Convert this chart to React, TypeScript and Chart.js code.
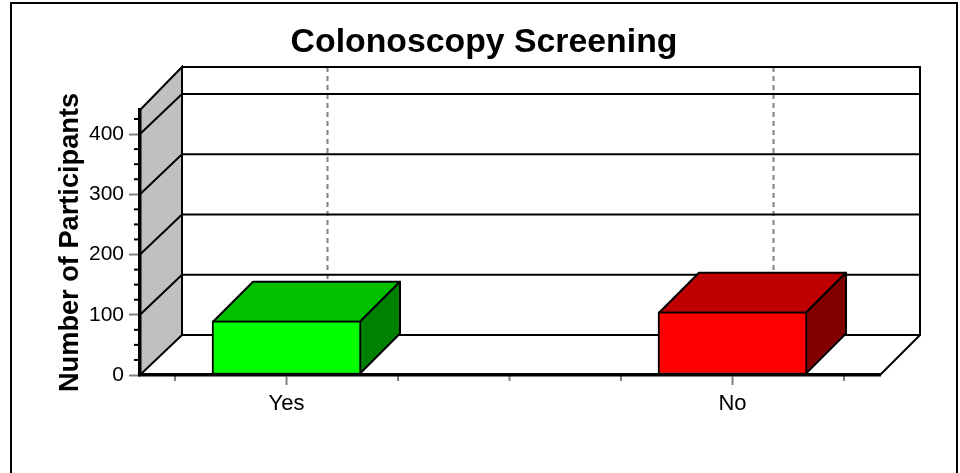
import React, { useEffect, useRef } from "react";
import { Chart, registerables } from "chart.js";

Chart.register(...registerables);

const categories = ["Yes", "No"];
const participants = [90, 105];
const xTickValues = [0.75, 1, 1.25, 1.5, 1.75, 2, 2.25];
const xAxisMin = 0.6715;
const xAxisMax = 2.3307;
const yAxisMax = 440;
const yMinorStep = 25;
const yMajorStep = 100;

const frontColors = ["#00ff00", "#ff0000"];
const topColors = ["#00c000", "#c00000"];
const sideColors = ["#008000", "#800000"];

const FONT = "'Liberation Sans', Arial, sans-serif";
const WALL_DX = 42;
const WALL_DY = 41;
const BAR_DX = 40;
const BAR_DY = 40;

const poly = (ctx: CanvasRenderingContext2D, pts: number[][], fill?: string) => {
  ctx.beginPath();
  pts.forEach(([x, y], i) => (i ? ctx.lineTo(x, y) : ctx.moveTo(x, y)));
  ctx.closePath();
  if (fill) {
    ctx.fillStyle = fill;
    ctx.fill();
  }
  ctx.stroke();
};

const seg = (ctx: CanvasRenderingContext2D, x1: number, y1: number, x2: number, y2: number) => {
  ctx.beginPath();
  ctx.moveTo(x1, y1);
  ctx.lineTo(x2, y2);
  ctx.stroke();
};

const scene3d = {
  id: "scene3d",
  beforeDraw(chart: any) {
    const { ctx, chartArea: a, scales } = chart;
    const y = scales.y;
    const x = scales.x;
    ctx.save();
    ctx.lineJoin = "miter";

    // outer frame, open at the bottom of the picture
    ctx.strokeStyle = "#000";
    ctx.lineWidth = 2;
    ctx.beginPath();
    ctx.moveTo(11, 473);
    ctx.lineTo(11, 3);
    ctx.lineTo(957, 3);
    ctx.lineTo(957, 473);
    ctx.stroke();

    const bx = a.left + WALL_DX;
    const brx = a.right + WALL_DX - 2;
    const floorBack = a.bottom - WALL_DY + 1;
    const topBack = a.top - WALL_DY - 2;

    // dashed category lines on the back wall
    ctx.strokeStyle = "#808080";
    ctx.lineWidth = 2;
    ctx.setLineDash([5, 4]);
    categories.forEach((_, i) => {
      const px = x.getPixelForValue(i + 1) + 41;
      seg(ctx, px, topBack, px, floorBack);
    });
    ctx.setLineDash([]);

    // left wall
    ctx.strokeStyle = "#000";
    ctx.lineWidth = 2;
    poly(ctx, [[a.left, a.top], [bx, topBack], [bx, floorBack], [a.left, a.bottom]], "#c0c0c0");

    // back wall outline
    ctx.beginPath();
    ctx.moveTo(bx, topBack);
    ctx.lineTo(brx, topBack);
    ctx.lineTo(brx, floorBack);
    ctx.lineTo(a.right, a.bottom);
    ctx.stroke();
    seg(ctx, bx, floorBack, brx, floorBack);

    // horizontal value lines on the left and back walls
    y.ticks.forEach((t: any) => {
      if (t.value === 0 || t.value % yMajorStep !== 0) return;
      const py = y.getPixelForValue(t.value);
      ctx.beginPath();
      ctx.moveTo(a.left, py);
      ctx.lineTo(bx, py - WALL_DY + 1);
      ctx.lineTo(brx, py - WALL_DY + 1);
      ctx.stroke();
    });

    // minor ticks
    ctx.lineWidth = 2;
    y.ticks.forEach((t: any) => {
      if (t.value % yMajorStep === 0) return;
      const py = y.getPixelForValue(t.value);
      seg(ctx, a.left - 6, py, a.left, py);
    });
    ctx.strokeStyle = "#808080";
    x.ticks.forEach((t: any) => {
      if (Number.isInteger(t.value)) return;
      const px = x.getPixelForValue(t.value);
      seg(ctx, px, a.bottom, px, a.bottom + 6);
    });
    ctx.restore();
  },
  beforeDatasetsDraw(chart: any) {
    const { ctx } = chart;
    const els = chart.getDatasetMeta(0).data;
    ctx.save();
    ctx.strokeStyle = "#000";
    ctx.lineWidth = 2;
    ctx.lineJoin = "round";
    els.forEach((el: any, i: number) => {
      const l = el.x - el.width / 2 + 1;
      const r = el.x + el.width / 2 - 1;
      const t = el.y + 1;
      const b = el.base - 1;
      poly(ctx, [[l, t], [l + BAR_DX, t - BAR_DY], [r + BAR_DX, t - BAR_DY], [r, t]], topColors[i]);
      poly(ctx, [[r, t], [r + BAR_DX, t - BAR_DY], [r + BAR_DX, b - BAR_DY], [r, b]], sideColors[i]);
    });
    ctx.restore();
  },
};

export default function App() {
  const ref = useRef<HTMLCanvasElement>(null);
  useEffect(() => {
    const chart = new Chart(ref.current as HTMLCanvasElement, {
      type: "bar",
      data: {
        datasets: [
          {
            data: categories.map((_, i) => ({ x: i + 1, y: participants[i] })),
            backgroundColor: frontColors,
            borderColor: "#000",
            borderWidth: 2,
            borderSkipped: false,
            barThickness: 149,
          },
        ],
      },
      plugins: [scene3d],
      options: {
        responsive: false,
        animation: false,
        layout: { autoPadding: false, padding: { left: 8, right: 0, top: 0, bottom: 0 } },
        plugins: {
          legend: { display: false },
          tooltip: { enabled: false },
          title: {
            display: true,
            text: "Colonoscopy Screening",
            color: "#000",
            font: { family: FONT, size: 33.8, weight: "bold", lineHeight: 1.2 },
            padding: { top: 22.7, bottom: 46.7 },
          },
        },
        scales: {
          x: {
            type: "linear",
            position: "bottom",
            min: xAxisMin,
            max: xAxisMax,
            offset: false,
            afterBuildTicks: (s: any) => {
              s.ticks = xTickValues.map((value) => ({ value }));
            },
            afterFit: (s: any) => {
              s.height = 98;
            },
            border: { display: true, color: "#000", width: 3.5 },
            grid: {
              offset: false,
              drawOnChartArea: false,
              drawTicks: true,
              tickLength: 10,
              tickWidth: 2,
              tickColor: (c: any) => (Number.isInteger(c.tick?.value) ? "#808080" : "rgba(0,0,0,0)"),
            },
            ticks: {
              autoSkip: false,
              maxRotation: 0,
              minRotation: 0,
              padding: 6,
              color: "#000",
              font: { family: FONT, size: 22 },
              callback: (v: any) => (Number.isInteger(v) ? categories[v - 1] : ""),
            },
          },
          y: {
            type: "linear",
            position: "left",
            min: 0,
            max: yAxisMax,
            afterFit: (s: any) => {
              s.width = 132;
            },
            border: { display: true, color: "#000", width: 3.5 },
            grid: {
              drawOnChartArea: false,
              drawTicks: true,
              tickLength: 11,
              tickWidth: 2,
              tickColor: (c: any) => (c.tick?.value % yMajorStep === 0 ? "#808080" : "rgba(0,0,0,0)"),
            },
            title: {
              display: true,
              text: "Number of Participants",
              color: "#000",
              font: { family: FONT, size: 27.2, weight: "bold", lineHeight: 1.2 },
              padding: { top: 45.7, bottom: 0 },
            },
            ticks: {
              stepSize: yMinorStep,
              includeBounds: false,
              autoSkip: false,
              padding: 5,
              color: "#000",
              font: { family: FONT, size: 21 },
              callback: (v: any) => (v % yMajorStep === 0 ? String(v) : ""),
            },
          },
          spacer: {
            type: "linear",
            position: "right",
            display: true,
            afterFit: (s: any) => {
              s.width = 80;
            },
            border: { display: false },
            grid: { display: false, drawTicks: false },
            ticks: { display: false },
          },
        },
      } as any,
    });
    return () => chart.destroy();
  }, []);
  return (
    <div style={{ position: "fixed", left: 0, top: 0, width: 960, height: 473, background: "#fff" }}>
      <canvas ref={ref} width={960} height={473} style={{ display: "block" }} />
    </div>
  );
}
